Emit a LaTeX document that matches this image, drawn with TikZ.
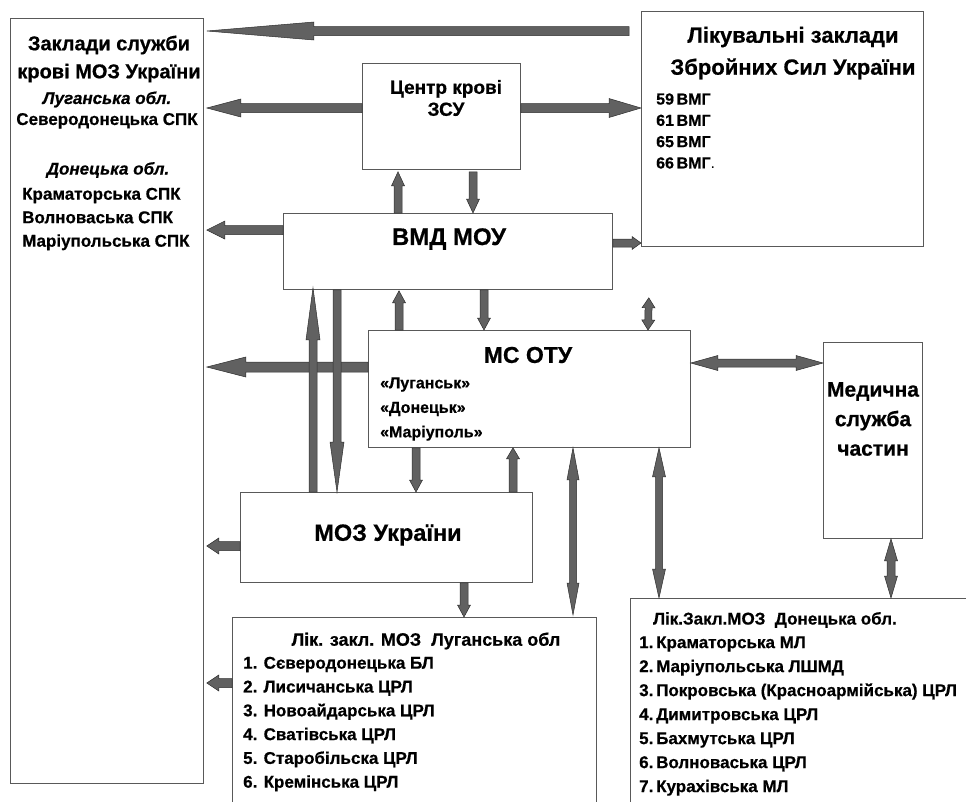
\documentclass[tikz,border=0pt]{standalone}
\usepackage{fontspec}
\setmainfont{Liberation Sans}[BoldFeatures={FakeBold=0.6},BoldItalicFeatures={FakeBold=0.6}]
\usetikzlibrary{calc,positioning}

\definecolor{arrowfill}{gray}{0.38}
\definecolor{arrowedge}{gray}{0.18}
\definecolor{boxline}{gray}{0.35}

% block arrow: tail, tip, half shaft, half head, head length
\newcommand{\blockarrow}[5]{%
  \coordinate (ta) at #1;
  \coordinate (tb) at #2;
  \filldraw[barrow] ($(ta)!#3!90:(tb)$) -- ($(tb)!#5!(ta)!#3!90:(tb)$)
    -- ($(tb)!#5!(ta)!#4!90:(tb)$) -- (tb)
    -- ($(tb)!#5!(ta)!#4!-90:(tb)$) -- ($(tb)!#5!(ta)!#3!-90:(tb)$)
    -- ($(ta)!#3!-90:(tb)$) -- cycle;
}
% block arrow with a head at both ends
\newcommand{\dblarrow}[5]{%
  \coordinate (ta) at #1;
  \coordinate (tb) at #2;
  \filldraw[barrow] (ta) -- ($(ta)!#5!(tb)!#4!90:(tb)$) -- ($(ta)!#5!(tb)!#3!90:(tb)$)
    -- ($(tb)!#5!(ta)!#3!90:(tb)$) -- ($(tb)!#5!(ta)!#4!90:(tb)$) -- (tb)
    -- ($(tb)!#5!(ta)!#4!-90:(tb)$) -- ($(tb)!#5!(ta)!#3!-90:(tb)$)
    -- ($(ta)!#5!(tb)!#3!-90:(tb)$) -- ($(ta)!#5!(tb)!#4!-90:(tb)$) -- cycle;
}

\begin{document}
\begin{tikzpicture}[x=1pt, y=-1pt,
  box/.style={draw=boxline, line width=0.8pt, fill=white, inner sep=0pt, anchor=north west},
  barrow/.style={fill=arrowfill, draw=arrowedge, line width=0.5pt, line join=miter},
  txt/.style={inner sep=0pt, align=center},
  listtxt/.style={inner sep=0pt, align=left, anchor=west}]

  \useasboundingbox (0,0) rectangle (966,801);
  \clip (0,0) rectangle (966,801);

  % boxes
  \node[box, minimum width=193pt, minimum height=765pt] (krov)   at (10,18)   {};
  \node[box, minimum width=158pt, minimum height=106pt] (zsu)    at (362,63)  {};
  \node[box, minimum width=282pt, minimum height=235pt] (likzsu) at (641,11)  {};
  \node[box, minimum width=329pt, minimum height=76pt]  (vmd)    at (283,213) {};
  \node[box, minimum width=322pt, minimum height=117pt] (otu)    at (368,330) {};
  \node[box, minimum width=99pt,  minimum height=196pt] (medsl)  at (823,342) {};
  \node[box, minimum width=292pt, minimum height=90pt]  (moz)    at (240,492) {};
  \node[box, minimum width=364pt, minimum height=220pt] (luh)    at (232,617) {};
  \node[box, minimum width=360pt, minimum height=240pt] (don)    at (630,598) {};

  % texts
  \node[txt, font=\bfseries\fontsize{20}{28}\selectfont] (krovtitle) at (109,59)
    {Заклади служби\\крові МОЗ України};
  \node[txt, font=\bfseries\fontsize{17}{21}\selectfont] (krovluh) at (107,110)
    {\textit{Луганська обл.}\\Северодонецька СПК};
  \node[txt, font=\bfseries\itshape\fontsize{17}{21}\selectfont] (krovdon) at (108,170)
    {Донецька обл.};
  \node[listtxt, font=\bfseries\fontsize{17}{23.5}\selectfont] (krovlist) at (22,219)
    {Краматорська СПК\\Волноваська СПК\\Маріупольська СПК};

  \node[txt, font=\bfseries\fontsize{22}{32}\selectfont] (likztitle) at (793,53)
    {Лікувальні заклади\\Збройних Сил України};
  \node[listtxt, font=\bfseries\fontsize{16}{21.3}\selectfont] (likzlist) at (656,131)
    {59\,ВМГ\\61\,ВМГ\\65\,ВМГ\\66\,ВМГ{\mdseries.}};

  \node[txt, font=\bfseries\fontsize{19}{22}\selectfont] (zsutitle) at (446,98)
    {Центр крові\\ЗСУ};
  \node[txt, font=\bfseries\fontsize{24}{28}\selectfont] (vmdtitle) at (449,239) {ВМД МОУ};
  \node[txt, font=\bfseries\fontsize{23}{28}\selectfont] (otutitle) at (528,355) {МС ОТУ};
  \node[listtxt, font=\bfseries\fontsize{16}{24.5}\selectfont] (otulist) at (380,409)
    {«Луганськ»\\«Донецьк»\\«Маріуполь»};
  \node[txt, font=\bfseries\fontsize{21}{29.5}\selectfont] (medtitle) at (873,419)
    {Медична\\служба\\частин};
  \node[txt, font=\bfseries\fontsize{23.5}{28}\selectfont] (moztitle) at (388,535) {МОЗ України};

  \node[txt, font=\bfseries\fontsize{18}{20}\selectfont] (luhtitle) at (426,641)
    {Лік. закл. МОЗ~~Луганська обл};
  \node[listtxt, font=\bfseries\fontsize{17}{23.8}\selectfont] (luhlist) at (243,724)
    {1. Сєверодонецька БЛ\\2. Лисичанська ЦРЛ\\3. Новоайдарська ЦРЛ\\4. Сватівська ЦРЛ\\5. Старобільска ЦРЛ\\6. Кремінська ЦРЛ};
  \node[txt, font=\bfseries\fontsize{17}{20}\selectfont] (dontitle) at (775,620)
    {Лік.Закл.МОЗ~~Донецька обл.};
  \node[listtxt, font=\bfseries\fontsize{17}{24}\selectfont] (donlist) at (639,716)
    {1.\,Краматорська МЛ\\2.\,Маріупольська ЛШМД\\3.\,Покровська (Красноармійська) ЦРЛ\\4.\,Димитровська ЦРЛ\\5.\,Бахмутська ЦРЛ\\6.\,Волноваська ЦРЛ\\7.\,Курахівська МЛ};

  \coordinate (vmdgap) at ([xshift=36pt,yshift=-8pt]vmd.south east);

  % horizontal arrows to the left box
  \blockarrow{([xshift=-12pt,yshift=-20pt]likzsu.north west)}{([xshift=3pt,yshift=-13pt]krov.north east)}{4.5pt}{9pt}{107pt}
  \blockarrow{([yshift=-45pt]zsu.north west)}{([xshift=3pt,yshift=-90pt]krov.north east)}{4.5pt}{9pt}{34pt}
  \blockarrow{([yshift=-17pt]vmd.north west)}{([xshift=3pt,yshift=-212pt]krov.north east)}{4.5pt}{9pt}{18pt}
  \blockarrow{([yshift=-37pt]otu.north west)}{([xshift=3pt,yshift=-349pt]krov.north east)}{5pt}{10pt}{39pt}
  \blockarrow{([yshift=-54pt]moz.north west)}{([xshift=3pt,yshift=-528pt]krov.north east)}{4.5pt}{8pt}{12pt}
  \blockarrow{([yshift=-66pt]luh.north west)}{([xshift=3pt,yshift=-665pt]krov.north east)}{4.5pt}{8pt}{12pt}

  % arrows to the right box
  \blockarrow{([yshift=-45pt]zsu.north east)}{([yshift=-97pt]likzsu.north west)}{4.5pt}{9.5pt}{32pt}
  \blockarrow{([yshift=-30pt]vmd.north east)}{([yshift=-232pt]likzsu.north west)}{4pt}{6.5pt}{9pt}

  % vertical arrows
  \blockarrow{([xshift=115pt]vmd.north west)}{([xshift=36pt,yshift=-2pt]zsu.south west)}{4pt}{6.5pt}{14pt}
  \blockarrow{([xshift=111pt,yshift=-2pt]zsu.south west)}{([xshift=190pt]vmd.north west)}{4pt}{6.5pt}{14pt}
  \blockarrow{([xshift=31pt]otu.north west)}{([xshift=116pt,yshift=-1pt]vmd.south west)}{4pt}{6.5pt}{12pt}
  \blockarrow{([xshift=201pt]vmd.south west)}{([xshift=116pt]otu.north west)}{4pt}{6.5pt}{12pt}
  \blockarrow{([xshift=73pt]moz.north west)}{([xshift=30pt,yshift=2pt]vmd.south west)}{4pt}{7pt}{52pt}
  \blockarrow{([xshift=54pt]vmd.south west)}{([xshift=97pt]moz.north west)}{4pt}{7pt}{50pt}
  \blockarrow{([xshift=48pt]otu.south west)}{([xshift=176pt]moz.north west)}{4pt}{6.5pt}{12pt}
  \blockarrow{([xshift=273pt]moz.north west)}{([xshift=145pt]otu.south west)}{4pt}{6.5pt}{11pt}
  \blockarrow{([xshift=224pt]moz.south west)}{([xshift=232pt]luh.north west)}{4pt}{6.5pt}{12pt}

  % double arrows
  \dblarrow{(vmdgap)}{([xshift=280pt]otu.north west)}{3.5pt}{6.5pt}{10pt}
  \dblarrow{([xshift=205pt]otu.south west)}{([xshift=341pt,yshift=2pt]luh.north west)}{3.5pt}{6pt}{32pt}
  \dblarrow{([xshift=291pt]otu.south west)}{([xshift=29pt]don.north west)}{3.5pt}{6.5pt}{29pt}
  \dblarrow{([yshift=-33pt]otu.north east)}{([yshift=-21pt]medsl.north west)}{4pt}{7.5pt}{27pt}
  \dblarrow{([xshift=68pt]medsl.south west)}{([xshift=261pt]don.north west)}{4pt}{6.5pt}{22pt}
\end{tikzpicture}
\end{document}
